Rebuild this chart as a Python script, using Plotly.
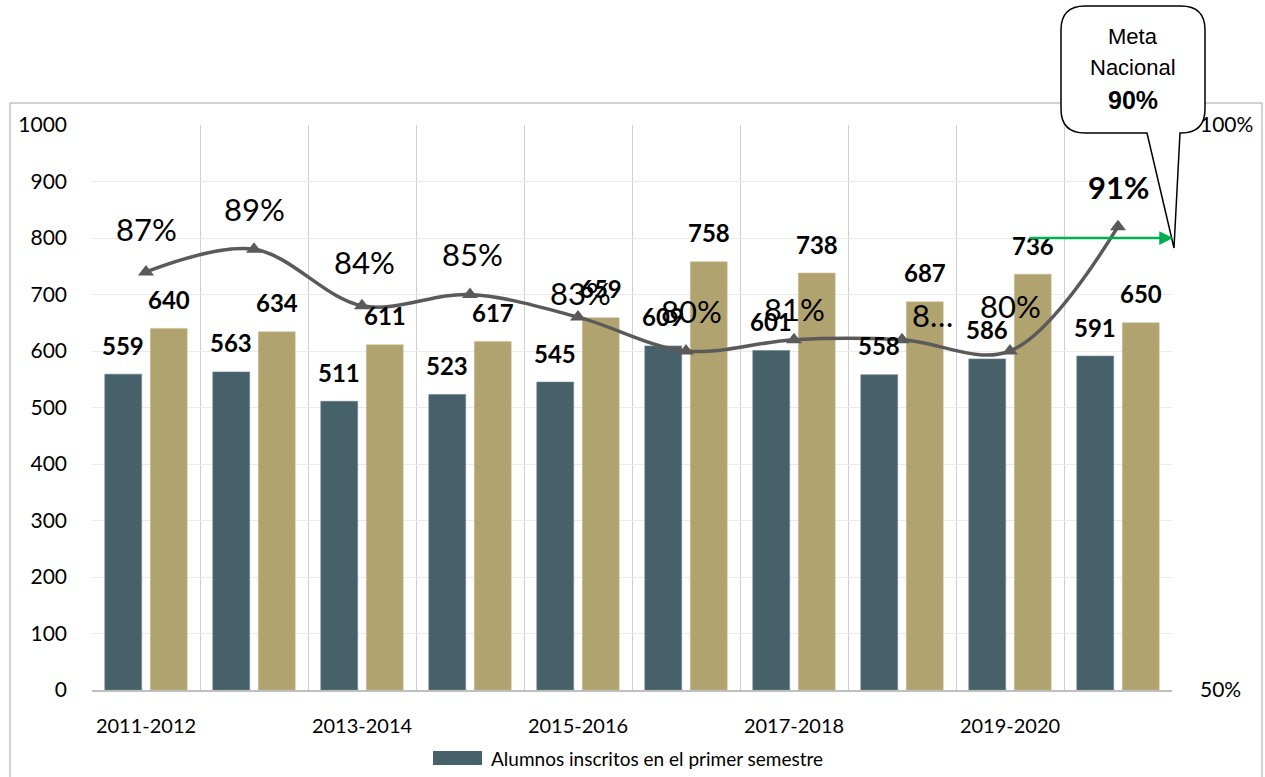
import plotly.graph_objects as go

# Ciclos escolares
ciclos = ["2011-2012", "2012-2013", "2013-2014", "2014-2015", "2015-2016",
          "2016-2017", "2017-2018", "2018-2019", "2019-2020", "2020-2021"]

# Alumnos inscritos en el primer semestre
inscritos = [559, 563, 511, 523, 545, 609, 601, 558, 586, 591]
# Segunda serie de barras (sin leyenda)
serie_b = [640, 634, 611, 617, 659, 758, 738, 687, 736, 650]
# Porcentaje (eje derecho)
porcentaje = [0.87, 0.89, 0.84, 0.85, 0.83, 0.80, 0.81, 0.81, 0.80, 0.91]
etiquetas_pct = ["87%", "89%", "84%", "85%", "83%", "80%", "81%", "8…", "80%", "91%"]
meta_nacional = 0.90

W, H = 1265, 777
ML, MR, MT, MB = 92, 93, 125, 87
PW, PH = W - ML - MR, H - MT - MB


def px(x):
    return (x - ML) / PW


def py(y):
    return (H - MB - y) / PH


FONT = "Lato, 'Open Sans', sans-serif"
C_DARK = "#47616A"
C_GOLD = "#B0A370"
C_LINE = "#5A5A5A"

fig = go.Figure()
fig.add_trace(go.Bar(x=ciclos, y=inscritos, name="Alumnos inscritos en el primer semestre",
                     marker=dict(color=C_DARK, line=dict(color="#6C8088", width=0.6)),
                     showlegend=False))
fig.add_trace(go.Bar(x=ciclos, y=serie_b, name="serie_b",
                     marker=dict(color=C_GOLD, line=dict(color="#C9BE93", width=0.6)),
                     showlegend=False))
fig.add_trace(go.Scatter(x=ciclos, y=porcentaje, yaxis="y2", mode="lines+markers",
                         line=dict(color=C_LINE, width=3.5, shape="spline", smoothing=1.0),
                         marker=dict(symbol="triangle-up", size=14, color=C_LINE),
                         showlegend=False, cliponaxis=False))

ann = []
bar_off = 22.75
for c, a, b in zip(ciclos, inscritos, serie_b):
    ann.append(dict(x=c, y=a, xref="x", yref="y", text=f"<b>{a}</b>", showarrow=False,
                    xanchor="center", yanchor="middle",
                    xshift=-bar_off, yshift=29, font=dict(family=FONT, size=24, color="#000")))
    ann.append(dict(x=c, y=b, xref="x", yref="y", text=f"<b>{b}</b>", showarrow=False,
                    xanchor="center", yanchor="middle",
                    xshift=bar_off, yshift=29, font=dict(family=FONT, size=24, color="#000")))

# desplazamientos de las etiquetas de porcentaje (px)
pct_dx = [0, 0, 2, 2, 2, 5, 0, 30, 0, 0]
pct_dy = [43, 40, 44, 41, 24, 40, 31, 25, 45, 40]
for i, (c, v, t) in enumerate(zip(ciclos, porcentaje, etiquetas_pct)):
    txt = f"<b>{t}</b>" if i == len(ciclos) - 1 else t
    ann.append(dict(x=c, y=v, xref="x", yref="y2", text=txt, showarrow=False,
                    xanchor="center", yanchor="middle",
                    xshift=pct_dx[i], yshift=pct_dy[i],
                    font=dict(family=FONT, size=31, color="#000")))

# flecha de la meta nacional
ann.append(dict(x=px(1173), y=meta_nacional, xref="paper", yref="y2", text="",
                showarrow=True, ax=-(1173 - 1028), ay=0, axref="pixel", ayref="pixel",
                arrowcolor="#00B050", arrowwidth=2.5, arrowhead=2, arrowsize=1.1,
                standoff=0, startstandoff=0))

# texto del globo
CALLOUT_FONT = "'Liberation Sans', Arial, sans-serif"
for t, yy, sz in [("Meta", 37, 22), ("Nacional", 68, 22), ("<b>90%</b>", 100, 25)]:
    ann.append(dict(x=px(1133), y=py(yy), xref="paper", yref="paper", text=t,
                    xanchor="center", yanchor="middle", showarrow=False,
                    font=dict(family=CALLOUT_FONT, size=sz, color="#000")))

# leyenda
ann.append(dict(x=px(489), y=py(758), xref="paper", yref="paper", xanchor="left",
                yanchor="middle", text="Alumnos inscritos en el primer semestre",
                showarrow=False, font=dict(family=FONT, size=19, color="#000")))

shapes = []
# marco exterior
shapes.append(dict(type="rect", xref="paper", yref="paper",
                   x0=px(10), x1=px(1262), y0=py(790), y1=py(103),
                   line=dict(color="#A6A6A6", width=1), fillcolor="rgba(0,0,0,0)", layer="below"))
# símbolo de la leyenda
shapes.append(dict(type="rect", xref="paper", yref="paper",
                   x0=px(433), x1=px(482), y0=py(765), y1=py(751),
                   line=dict(width=0), fillcolor=C_DARK))

# globo con punta
x0b, x1b, y0b, y1b, r = 1061, 1205, 6, 133, 24
tail_l, tail_r, tip = 1147, 1180, (1174, 248)
pts = [
    ("M", (x0b + r, y0b)), ("L", (x1b - r, y0b)), ("Q", (x1b, y0b), (x1b, y0b + r)),
    ("L", (x1b, y1b - r)), ("Q", (x1b, y1b), (x1b - r, y1b)),
    ("L", (tail_r, y1b)), ("L", tip), ("L", (tail_l, y1b)),
    ("L", (x0b + r, y1b)), ("Q", (x0b, y1b), (x0b, y1b - r)),
    ("L", (x0b, y0b + r)), ("Q", (x0b, y0b), (x0b + r, y0b)),
]
path = ""
for p in pts:
    cmd = p[0]
    coords = " ".join(f"{px(x):.5f},{py(y):.5f}" for x, y in p[1:])
    path += f"{cmd}{coords} "
path += "Z"
shapes.append(dict(type="path", xref="paper", yref="paper", path=path,
                   line=dict(color="#000", width=1.5), fillcolor="#FFFFFF", layer="above"))

fig.update_layout(
    width=W, height=H,
    margin=dict(l=ML, r=MR, t=MT, b=MB, pad=0, autoexpand=False),
    paper_bgcolor="#FFFFFF", plot_bgcolor="#FFFFFF",
    barmode="group", bargap=0.157, bargroupgap=0.19,
    font=dict(family=FONT, size=20, color="#000"),
    xaxis=dict(type="category", tickson="boundaries", showgrid=True, gridcolor="#D0D0D0",
               gridwidth=1, tickvals=ciclos, tickangle=0, automargin=False,
               ticktext=[c if i % 2 == 0 else "" for i, c in enumerate(ciclos)],
               ticks="", showline=True, linecolor="#BFBFBF", linewidth=1.5,
               tickfont=dict(family=FONT, size=20, color="#000"), ticklabelstandoff=17,
               range=[-0.5, len(ciclos) - 0.5]),
    yaxis=dict(range=[0, 1000], dtick=100, showgrid=True, gridcolor="#EBEBEB", gridwidth=1,
               zeroline=False, ticks="", automargin=False,
               tickfont=dict(family=FONT, size=21, color="#000"), ticklabelstandoff=24),
    yaxis2=dict(range=[0.5, 1.0], overlaying="y", side="right", tickvals=[0.5, 1.0],
                tickformat=".0%", showgrid=False, zeroline=False, ticks="", automargin=False,
                tickfont=dict(family=FONT, size=21, color="#000"), ticklabelstandoff=27),
    annotations=ann, shapes=shapes, showlegend=False,
)

fig.write_html("out.html")
